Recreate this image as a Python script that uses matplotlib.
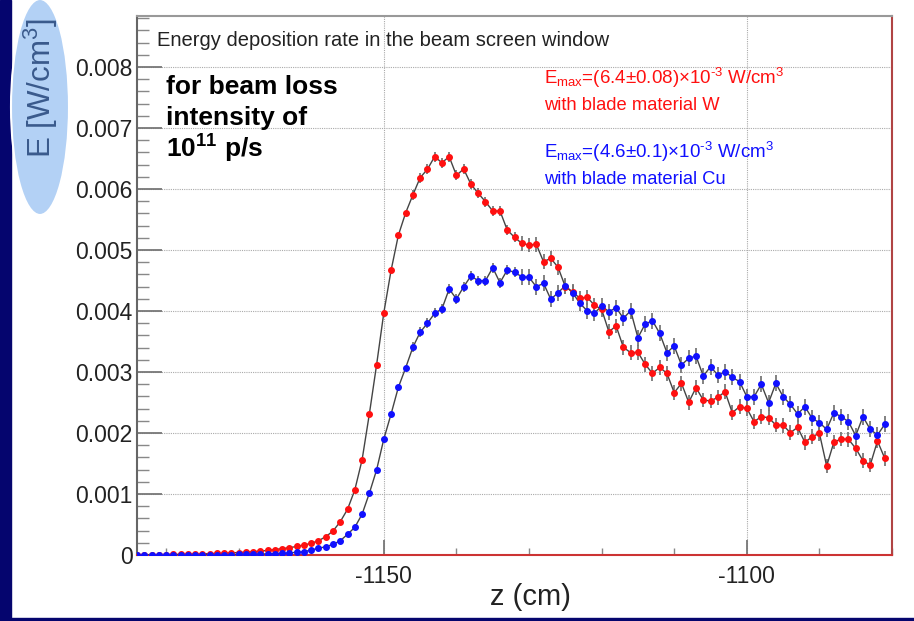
import numpy as np
import matplotlib
matplotlib.use("Agg")
import matplotlib.pyplot as plt
from matplotlib.patches import Ellipse, Rectangle
from matplotlib.ticker import MultipleLocator, FixedLocator, FixedFormatter

plt.rcParams['font.family'] = ['Liberation Sans', 'DejaVu Sans']
plt.rcParams['mathtext.fontset'] = 'custom'
plt.rcParams['mathtext.rm'] = 'Liberation Sans'
plt.rcParams['mathtext.it'] = 'Liberation Sans:italic'
plt.rcParams['mathtext.bf'] = 'Liberation Sans:bold'

# bin centres (cm), 1 cm bins
z = np.arange(-1184, -1080)

# energy deposition, blade material W (red)
e_w = [
    0.000002, 0.000003, 0.000004, 0.000005, 0.000007, 0.000010, 0.000012, 0.000014,
    0.000016, 0.000019, 0.000022, 0.000026, 0.000030, 0.000035, 0.000040, 0.000047,
    0.000055, 0.000064, 0.000075, 0.000090, 0.000105, 0.000120, 0.000140, 0.000164,
    0.000192, 0.000234, 0.000300, 0.000393, 0.000546, 0.000749, 0.001066, 0.001557,
    0.002307, 0.003115, 0.003972, 0.004667, 0.005241, 0.005607, 0.005902, 0.006185,
    0.006323, 0.006530, 0.006431, 0.006530, 0.006224, 0.006328, 0.006077, 0.005930,
    0.005792, 0.005640, 0.005640, 0.005328, 0.005208, 0.005110, 0.005082, 0.005093,
    0.004808, 0.004864, 0.004716, 0.004398, 0.004316, 0.004208, 0.004224, 0.004098,
    0.004027, 0.003661, 0.003754, 0.003404, 0.003317, 0.003322, 0.003126, 0.002978,
    0.003076, 0.002978, 0.002661, 0.002814, 0.002503, 0.002743, 0.002541, 0.002525,
    0.002585, 0.002677, 0.002333, 0.002432, 0.002404, 0.002186, 0.002268, 0.002251,
    0.002131, 0.002126, 0.002005, 0.002093, 0.001847, 0.001939, 0.001995, 0.001459,
    0.001852, 0.001902, 0.001896, 0.001749, 0.001546, 0.001475, 0.001869, 0.001585,
]

# energy deposition, blade material Cu (blue)
e_cu = [
    0.000001, 0.000001, 0.000001, 0.000002, 0.000002, 0.000002, 0.000003, 0.000003,
    0.000004, 0.000004, 0.000005, 0.000006, 0.000007, 0.000008, 0.000010, 0.000012,
    0.000014, 0.000016, 0.000019, 0.000023, 0.000028, 0.000035, 0.000044, 0.000054,
    0.000082, 0.000110, 0.000136, 0.000175, 0.000234, 0.000339, 0.000454, 0.000667,
    0.001011, 0.001393, 0.001902, 0.002311, 0.002749, 0.003066, 0.003405, 0.003651,
    0.003798, 0.003962, 0.004033, 0.004361, 0.004197, 0.004398, 0.004574, 0.004497,
    0.004497, 0.004710, 0.004464, 0.004672, 0.004634, 0.004563, 0.004552, 0.004398,
    0.004454, 0.004192, 0.004300, 0.004415, 0.004300, 0.004126, 0.004005, 0.003962,
    0.004082, 0.003989, 0.004054, 0.003880, 0.004005, 0.003562, 0.003787, 0.003841,
    0.003634, 0.003317, 0.003426, 0.003115, 0.003225, 0.003262, 0.002934, 0.003087,
    0.002951, 0.003005, 0.002913, 0.002842, 0.002596, 0.002596, 0.002798, 0.002497,
    0.002814, 0.002596, 0.002470, 0.002311, 0.002432, 0.002240, 0.002169, 0.002060,
    0.002333, 0.002268, 0.002186, 0.001956, 0.002268, 0.002060, 0.001967, 0.002142,
]

# rough statistical errors
err_w = [0.0] * 32 + [0.00002] * 6 + [0.00008] * 15 + [0.00012] * 51
err_cu = [0.0] * 32 + [0.00002] * 6 + [0.00008] * 15 + [0.00013] * 51

y_ticks = [0.0, 0.001, 0.002, 0.003, 0.004, 0.005, 0.006, 0.007, 0.008]
y_ticklabels = ['0', '0.001', '0.002', '0.003', '0.004', '0.005', '0.006', '0.007', '0.008']
x_ticks = [-1150, -1100]
x_ticklabels = ['-1150', '-1100']

W, H = 914, 621
fig = plt.figure(figsize=(W / 100, H / 100), dpi=100)
fig.patch.set_facecolor('white')

# slide decorations
fig.add_artist(Rectangle((0, 0), 11 / W, 1, transform=fig.transFigure,
                         color='#05056e', zorder=0))
fig.add_artist(Rectangle((0, 0), 1, 3 / H, transform=fig.transFigure,
                         color='#05056e', zorder=0))

ax = fig.add_axes([137 / W, 1 - 555 / H, (892 - 137) / W, (555 - 16) / H])

for e, err, col in [(e_w, err_w, '#ff1010'), (e_cu, err_cu, '#1010ff')]:
    ax.errorbar(z, e, yerr=err, fmt='none', ecolor='#777777', elinewidth=1.3,
                capsize=0, zorder=2)
    ax.plot(z, e, color='#444444', lw=1.0, zorder=3)
    ax.plot(z, e, 'o', color=col, ms=4.0, mec=col, zorder=4)

ax.set_xlim(-1184, -1080)
ax.set_ylim(0, 0.008836)

ax.yaxis.set_major_locator(FixedLocator(y_ticks))
ax.yaxis.set_major_formatter(FixedFormatter(y_ticklabels))
ax.yaxis.set_minor_locator(MultipleLocator(0.0002))
ax.xaxis.set_major_locator(FixedLocator(x_ticks))
ax.xaxis.set_major_formatter(FixedFormatter(x_ticklabels))
ax.xaxis.set_minor_locator(MultipleLocator(10))

ax.tick_params(axis='y', which='major', direction='in', length=18, width=1.3,
               color='#777777', labelsize=16.5, labelcolor='#222222', pad=3)
ax.tick_params(axis='y', which='minor', direction='in', length=8.5, width=1.0,
               color='#888888')
ax.tick_params(axis='x', which='major', direction='in', length=11, width=1.3,
               color='#777777', labelsize=16.5, labelcolor='#222222', pad=7)
ax.tick_params(axis='x', which='minor', direction='in', length=5, width=1.0,
               color='#888888')

ax.grid(True, which='major', linestyle=(0, (1, 1)), color='#aaaaaa', lw=0.8)
ax.set_axisbelow(True)

ax.spines['top'].set_color('#999999')
ax.spines['left'].set_color('#666666')
ax.spines['bottom'].set_color('#cc3333')
ax.spines['right'].set_color('#b04444')
for s in ax.spines.values():
    s.set_linewidth(1.5)

ax.set_xlabel('z (cm)', fontsize=21, color='#222222', va='center')
ax.xaxis.set_label_coords((530 - 137) / (892 - 137), -(597 - 555) / (555 - 16))

# y label in the light blue ellipse
fig.add_artist(Ellipse((40 / W, 1 - 107 / H), 58 / W, 216 / H, transform=fig.transFigure,
                       facecolor='#b3d1f5', edgecolor='white', lw=1.5, zorder=1))
fig.text(41 / W, 1 - 88 / H, r'E [W/cm$^3$]', rotation=90, fontsize=22.5,
         color='#3a5a8c', ha='center', va='center', zorder=2)

fig.text(157 / W, 1 - 40 / H, 'Energy deposition rate in the beam screen window',
         fontsize=14.5, color='#222222', ha='left', va='center')

for i, line in enumerate(['for beam loss', 'intensity of', r'$\mathbf{10^{11}}$ p/s']):
    fig.text(166 / W, 1 - (87 + 31 * i) / H, line, fontsize=19, fontweight='bold',
             color='black', ha='left', va='center')

fig.text(544 / W, 1 - 78 / H, r'E$_{\rm max}$=(6.4$\pm$0.08)$\times$10$^{\text{-}3}$ W/cm$^3$',
         fontsize=13.5, color='#ff1010', ha='left', va='center')
fig.text(544 / W, 1 - 105 / H, 'with blade material W',
         fontsize=13.2, color='#ff1010', ha='left', va='center')
fig.text(544 / W, 1 - 152 / H, r'E$_{\rm max}$=(4.6$\pm$0.1)$\times$10$^{\text{-}3}$ W/cm$^3$',
         fontsize=13.5, color='#1010ff', ha='left', va='center')
fig.text(544 / W, 1 - 180 / H, 'with blade material Cu',
         fontsize=13.2, color='#1010ff', ha='left', va='center')

fig.savefig('out.png', dpi=100)
